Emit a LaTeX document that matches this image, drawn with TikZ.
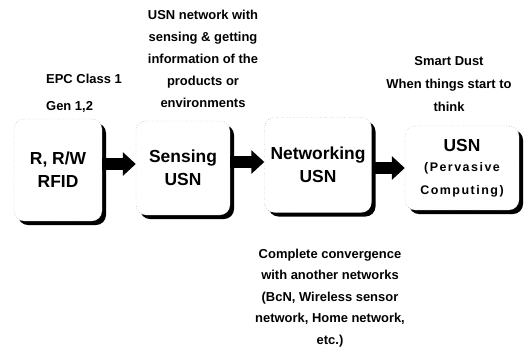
\documentclass[tikz,border=0pt]{standalone}
\usepackage{fontspec}
\setmainfont{Liberation Sans}
\newfontfamily\widefont[LetterSpace=12]{Liberation Sans}
\usetikzlibrary{arrows.meta}
\usetikzlibrary{shadows}
\definecolor{dotgray}  {RGB}{120,120,120}
\newcommand{\smallwide}{\widefont\bfseries\fontsize{12.5}{21}\selectfont}
\tikzset{
    usnbox/.style={draw=dotgray, dotted, fill=white, rounded corners=10bp,
             drop shadow={shadow xshift=4bp, shadow yshift=-4bp, fill=black, opacity=1},
             font=\fontsize{17.5}{23}\selectfont\bfseries, align=center, inner sep=0pt},
    blockarrow/.style={draw=black, line width=12bp,
             -{Triangle[length=13bp,width=23bp]}},
    note/.style={font=\fontsize{13}{22}\selectfont\bfseries, align=center, inner sep=0pt}
  }
\begin{document}
\begin{tikzpicture}[x=1bp, y=-1bp]
 \useasboundingbox (0,0) rectangle (527,351);
 %Boxes
     \node[usnbox, minimum width=88bp, minimum height=102bp] (rfid) at (58,170) {R, R/W\\RFID};
     \node[usnbox, minimum width=94bp, minimum height=94bp] (sensing) at (183,168) {Sensing\\USN};
     \node[usnbox, minimum width=107bp, minimum height=95bp] (networking) at (318,165) {Networking\\USN};
     \node[usnbox, minimum width=114bp, minimum height=84bp] (pervasive) at (462,168)
          {USN\\[-3bp]\smallwide (Pervasive\\\smallwide Computing)};
 %Arrows
     \draw[blockarrow] ([yshift=6bp]rfid.east) -- ([yshift=6bp]rfid.east -| sensing.west);
     \draw[blockarrow] ([yshift=6bp]sensing.east) -- ([yshift=6bp]sensing.east -| networking.west);
     \draw[blockarrow] ([yshift=-3bp]networking.east) -- ([yshift=-3bp]networking.east -| pervasive.west);
 %Notes
     \node[note, align=left, anchor=west, font=\fontsize{13}{27}\selectfont\bfseries] (epc) at (46,93) {EPC Class 1\\Gen 1,2};
     \node[note] (sensenote) at (203,59) {USN network with\\sensing \& getting\\information of the\\products or\\environments};
     \node[note, font=\fontsize{13}{23.5}\selectfont\bfseries] (dust) at (449,84) {Smart Dust\\When things start to\\think};
     \node[note, font=\fontsize{13}{21.5}\selectfont\bfseries] (convergence) at (330,298) {Complete convergence\\with another networks\\(BcN, Wireless sensor\\network, Home network,\\etc.)};
 \end{tikzpicture}
\end{document}
